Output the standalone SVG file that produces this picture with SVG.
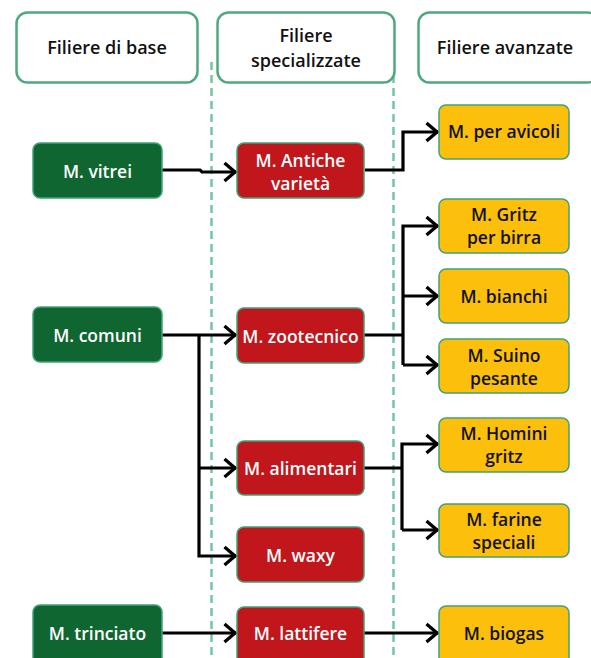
<svg xmlns="http://www.w3.org/2000/svg" width="591" height="658" viewBox="0 0 591 658">
<defs>
<style>
.hdr{fill:#fff;stroke:#4fa97e;stroke-width:2.5}
.g{fill:#0f6631;stroke:#3fa37a;stroke-width:1.5}
.r{fill:#c1161b;stroke:#3fa37a;stroke-width:1.5}
.y{fill:#fbbf0c;stroke:#3fa37a;stroke-width:1.5}
.dash{stroke:#74c6a3;stroke-width:2.5;stroke-dasharray:8 5;fill:none}
.c{fill:none;stroke:#000;stroke-width:3.2;stroke-linejoin:miter}
text{font-family:"Open Sans","Noto Sans",sans-serif;font-size:17.5px;font-weight:600;text-anchor:middle;dominant-baseline:central}
.ht{fill:#111;font-size:18px}
.wt{fill:#fff}
.bt{fill:#111}
</style>
<marker id="ah" viewBox="0 0 15 22" refX="14" refY="11" markerWidth="15" markerHeight="22" markerUnits="userSpaceOnUse" orient="auto">
<path d="M2.5 2 L13 11 L2.5 20" fill="none" stroke="#000" stroke-width="3.3"/>
</marker>
</defs>
<rect width="591" height="658" fill="#fff"/>
<g id="guides">
<line class="dash" x1="211.5" y1="62" x2="211.5" y2="658"/>
<line class="dash" x1="393.5" y1="62" x2="393.5" y2="658"/>
</g>
<g id="header-base"><rect class="hdr" x="16.5" y="12.5" width="181" height="70" rx="11"/><text class="ht" x="107" y="47">Filiere di base</text></g>
<g id="header-spec"><rect class="hdr" x="217.5" y="12.5" width="177" height="70" rx="11"/><text class="ht" x="306" y="35">Filiere</text><text class="ht" x="306" y="60">specializzate</text></g>
<g id="header-avan"><rect class="hdr" x="418.5" y="12.5" width="180" height="70" rx="11"/><text class="ht" x="505" y="47">Filiere avanzate</text></g>
<g id="connectors">
<path class="c" d="M162 170 H200 L202 172 H236" marker-end="url(#ah)"/>
<path class="c" d="M365 170 H403 V132 H438" marker-end="url(#ah)"/>
<path class="c" d="M162 335 H236" marker-end="url(#ah)"/>
<path class="c" d="M199 335 V556 H236" marker-end="url(#ah)"/>
<path class="c" d="M199 468 H236" marker-end="url(#ah)"/>
<path class="c" d="M363 335 H403"/>
<path class="c" d="M403 365 V226 H438" marker-end="url(#ah)"/>
<path class="c" d="M403 296 H438" marker-end="url(#ah)"/>
<path class="c" d="M403 365 H438" marker-end="url(#ah)"/>
<path class="c" d="M363 468 H402"/>
<path class="c" d="M402 530 V444 H438" marker-end="url(#ah)"/>
<path class="c" d="M402 530 H438" marker-end="url(#ah)"/>
<path class="c" d="M162 633 H236" marker-end="url(#ah)"/>
<path class="c" d="M363 633 H438" marker-end="url(#ah)"/>
</g>
<g id="n-vitrei"><rect class="g" x="33" y="143" width="129" height="55" rx="7"/><text class="wt" x="97.5" y="171">M. vitrei</text></g>
<g id="n-comuni"><rect class="g" x="33" y="307" width="129" height="55" rx="7"/><text class="wt" x="97.5" y="335">M. comuni</text></g>
<g id="n-trinciato"><rect class="g" x="33" y="605" width="129" height="60" rx="7"/><text class="wt" x="97.5" y="633">M. trinciato</text></g>
<g id="n-antiche"><rect class="r" x="237" y="143" width="127" height="55" rx="7"/><text class="wt" x="300.5" y="160">M. Antiche</text><text class="wt" x="300.5" y="183">varietà</text></g>
<g id="n-zootecnico"><rect class="r" x="237" y="308" width="127" height="55" rx="7"/><text class="wt" x="300.5" y="336">M. zootecnico</text></g>
<g id="n-alimentari"><rect class="r" x="237" y="441" width="127" height="54" rx="7"/><text class="wt" x="300.5" y="468">M. alimentari</text></g>
<g id="n-waxy"><rect class="r" x="237" y="527" width="127" height="55" rx="7"/><text class="wt" x="300.5" y="555">M. waxy</text></g>
<g id="n-lattifere"><rect class="r" x="237" y="607" width="127" height="60" rx="7"/><text class="wt" x="300.5" y="633">M. lattifere</text></g>
<g id="n-avicoli"><rect class="y" x="439" y="105" width="130" height="54" rx="7"/><text class="bt" x="504" y="131">M. per avicoli</text></g>
<g id="n-gritz"><rect class="y" x="439" y="199" width="130" height="54" rx="7"/><text class="bt" x="504" y="214">M. Gritz</text><text class="bt" x="504" y="237">per birra</text></g>
<g id="n-bianchi"><rect class="y" x="439" y="269" width="130" height="54" rx="7"/><text class="bt" x="504" y="296">M. bianchi</text></g>
<g id="n-suino"><rect class="y" x="439" y="339" width="130" height="54" rx="7"/><text class="bt" x="504" y="355">M. Suino</text><text class="bt" x="504" y="378">pesante</text></g>
<g id="n-homini"><rect class="y" x="439" y="418" width="130" height="54" rx="7"/><text class="bt" x="504" y="433">M. Homini</text><text class="bt" x="504" y="456">gritz</text></g>
<g id="n-farine"><rect class="y" x="439" y="504" width="130" height="53" rx="7"/><text class="bt" x="504" y="519">M. farine</text><text class="bt" x="504" y="542">speciali</text></g>
<g id="n-biogas"><rect class="y" x="439" y="606" width="130" height="60" rx="7"/><text class="bt" x="504" y="633">M. biogas</text></g>
</svg>
